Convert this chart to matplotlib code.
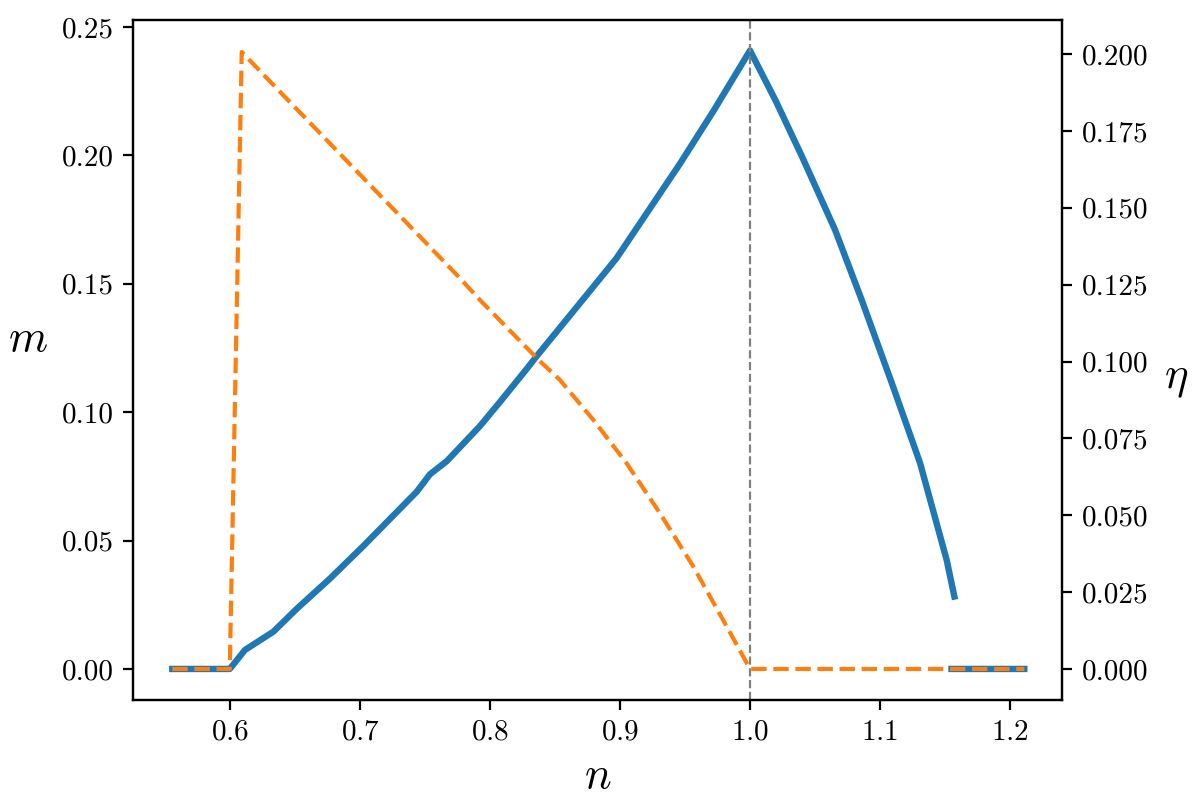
import numpy as np
import matplotlib
matplotlib.use("Agg")
import matplotlib.pyplot as plt

plt.rcParams["font.family"] = "serif"
plt.rcParams["font.serif"] = ["cmr10"]
plt.rcParams["mathtext.fontset"] = "cm"
plt.rcParams["axes.formatter.use_mathtext"] = True

# m(n), solid blue, left axis (NaN splits the curve from the zero tail)
n_m = [0.5556, 0.5998, 0.6115, 0.6333, 0.6513, 0.6769, 0.7026, 0.7436, 0.7538,
       0.7667, 0.7923, 0.8077, 0.8269, 0.8359, 0.8846, 0.8974, 0.9462, 0.9718,
       1.0, 1.02, 1.04, 1.0654, 1.0859, 1.11, 1.1308, 1.1513, 1.1572,
       1.1555, 1.155, 1.211]
m_vals = [0.0, 0.0, 0.0074, 0.0145, 0.0234, 0.0352, 0.0479, 0.0690, 0.0758,
          0.0809, 0.0946, 0.1040, 0.1160, 0.1218, 0.1520, 0.1600, 0.1968, 0.2172,
          0.2408, 0.2210, 0.1995, 0.1710, 0.1437, 0.1100, 0.0802, 0.0424, 0.0282,
          np.nan, 0.0, 0.0]

# eta(n), dashed orange, right axis
n_eta = [0.5556, 0.5998, 0.6090, 0.6385, 0.6744, 0.7103, 0.7462, 0.7769, 0.7923,
         0.8372, 0.8538, 0.8795, 0.9051, 0.9308, 0.9564, 0.9821, 1.0, 1.211]
eta_vals = [0.0, 0.0, 0.2007, 0.1877, 0.1720, 0.1563, 0.1406, 0.1271, 0.1200,
            0.1006, 0.0940, 0.0810, 0.0669, 0.0506, 0.0333, 0.0138, 0.0, 0.0]

n_crit = 1.0

fig, ax = plt.subplots(figsize=(6.015, 4.045), dpi=200)
fig.subplots_adjust(left=0.1106, right=0.8828, top=0.9753, bottom=0.1347)

ax.plot(n_m, m_vals, color="C0", lw=2.3)
ax.axvline(n_crit, color="gray", ls="--", lw=0.8)
ax.set_xlabel(r"$n$", fontsize=16)
ax.set_ylabel(r"$m$", fontsize=16, rotation=0, labelpad=12)
ax.tick_params(labelsize=10.5)

ax2 = ax.twinx()
ax2.plot(n_eta, eta_vals, color="C1", ls="--", lw=1.5)
ax2.set_ylabel(r"$\eta$", fontsize=16, rotation=0, labelpad=10)
ax2.tick_params(labelsize=10.5)

ax.set_xlim(0.5254, 1.24)
ax.set_ylim(-0.0121, 0.2527)
ax2.set_ylim(-0.0101, 0.2111)
ax.set_xticks([0.6, 0.7, 0.8, 0.9, 1.0, 1.1, 1.2])
ax.set_yticks([0.0, 0.05, 0.10, 0.15, 0.20, 0.25])
ax.set_yticklabels(["0.00", "0.05", "0.10", "0.15", "0.20", "0.25"])
ax2.set_yticks([0.0, 0.025, 0.05, 0.075, 0.1, 0.125, 0.15, 0.175, 0.2])
ax2.set_yticklabels(["0.000", "0.025", "0.050", "0.075", "0.100", "0.125",
                     "0.150", "0.175", "0.200"])

fig.savefig("out.png", dpi=200)
